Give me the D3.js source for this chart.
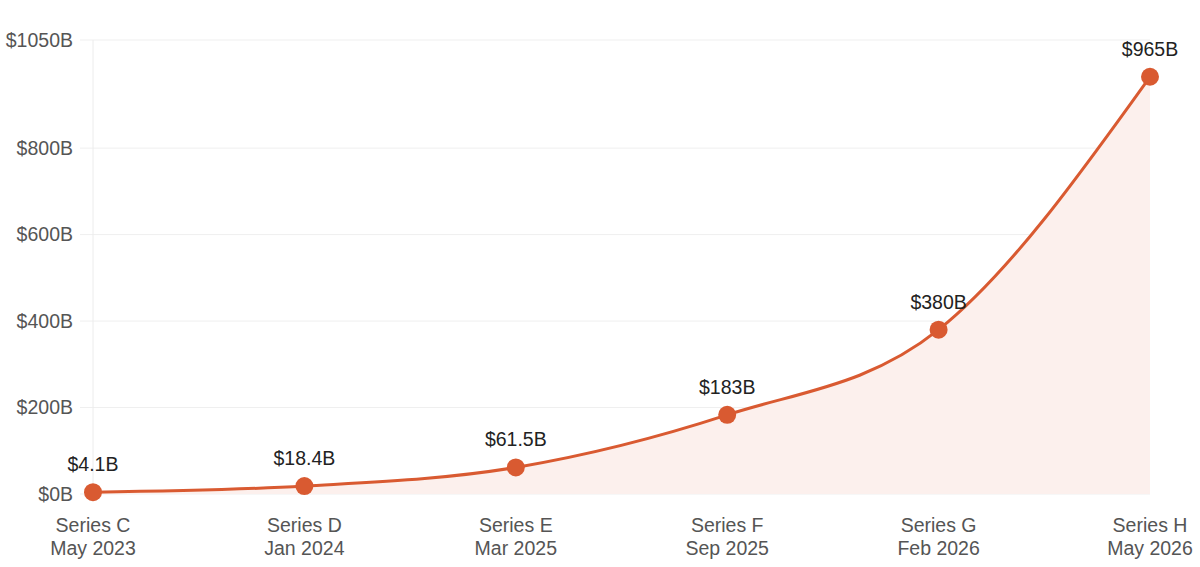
<!DOCTYPE html>
<html>
<head>
<meta charset="utf-8">
<script src="https://cdn.jsdelivr.net/npm/d3@7"></script>
<style>
  body { margin: 0; background: #fff; }
  text { font-family: "Liberation Sans", Arial, Helvetica, sans-serif; }
</style>
</head>
<body>
<script>
var rounds = ["Series C", "Series D", "Series E", "Series F", "Series G", "Series H"];
var dates = ["May 2023", "Jan 2024", "Mar 2025", "Sep 2025", "Feb 2026", "May 2026"];
var valuations = [4.1, 18.4, 61.5, 183, 380, 965];
var valueLabels = ["$4.1B", "$18.4B", "$61.5B", "$183B", "$380B", "$965B"];
var yTicks = [0, 200, 400, 600, 800, 1050];

var width = 1200, height = 567;
var plotLeft = 93, plotRight = 1150, plotTop = 40, plotBottom = 494;

var svg = d3.select("body").append("svg")
    .attr("width", width).attr("height", height);

var x = d3.scalePoint().domain(rounds).range([plotLeft, plotRight]);
var y = d3.scaleLinear().domain([0, 1050]).range([plotBottom, plotTop]);

// grid lines
svg.append("g").selectAll("line").data(yTicks).enter().append("line")
    .attr("x1", plotLeft - 13).attr("x2", plotRight)
    .attr("y1", function(d) { return y(d); }).attr("y2", function(d) { return y(d); })
    .attr("stroke", "#efefef").attr("stroke-width", 1);

// left axis line
svg.append("line").attr("x1", plotLeft).attr("x2", plotLeft)
    .attr("y1", plotTop).attr("y2", plotBottom)
    .attr("stroke", "#ececec").attr("stroke-width", 1);

// y labels
svg.append("g").selectAll("text").data(yTicks).enter().append("text")
    .attr("x", plotLeft - 20).attr("y", function(d) { return y(d); })
    .attr("dy", "0.35em").attr("text-anchor", "end")
    .style("font-size", "19.5px").attr("fill", "#555")
    .text(function(d) { return "$" + d + "B"; });

var pts = rounds.map(function(r, i) { return {r: r, v: valuations[i], i: i}; });

var area = d3.area().curve(d3.curveMonotoneX)
    .x(function(d) { return x(d.r); })
    .y0(y(0)).y1(function(d) { return y(d.v); });

var line = d3.line().curve(d3.curveMonotoneX)
    .x(function(d) { return x(d.r); })
    .y(function(d) { return y(d.v); });

svg.append("path").datum(pts).attr("d", area).attr("fill", "#fcf0ed");
svg.append("path").datum(pts).attr("d", line)
    .attr("fill", "none").attr("stroke", "#d95a31").attr("stroke-width", 3);

svg.append("g").selectAll("circle").data(pts).enter().append("circle")
    .attr("cx", function(d) { return x(d.r); })
    .attr("cy", function(d) { return y(d.v); })
    .attr("r", 9).attr("fill", "#d95a31");

// value labels
svg.append("g").selectAll("text").data(pts).enter().append("text")
    .attr("x", function(d) { return x(d.r); })
    .attr("y", function(d) { return y(d.v) - 21; })
    .attr("text-anchor", "middle")
    .style("font-size", "19.5px").attr("fill", "#222")
    .text(function(d) { return valueLabels[d.i]; });

// x labels
var xl = svg.append("g").selectAll("text").data(pts).enter().append("text")
    .attr("text-anchor", "middle")
    .style("font-size", "19.5px").attr("fill", "#555");
xl.append("tspan").attr("x", function(d) { return x(d.r); }).attr("y", 532)
    .text(function(d) { return d.r; });
xl.append("tspan").attr("x", function(d) { return x(d.r); }).attr("y", 555)
    .text(function(d) { return dates[d.i]; });
</script>
</body>
</html>
